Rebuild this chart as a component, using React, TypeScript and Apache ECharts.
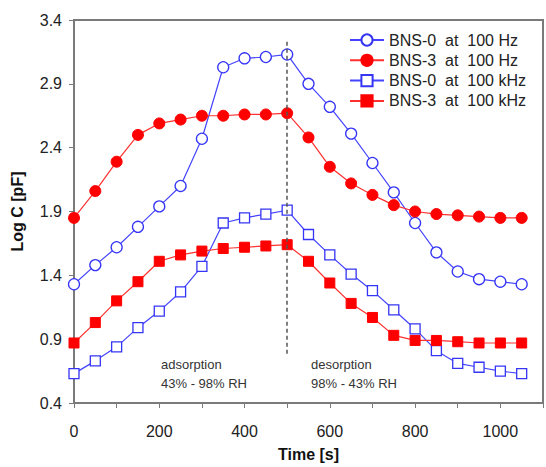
import React, { useEffect, useRef } from "react";
import * as echarts from "echarts";

const times = [0, 50, 100, 150, 200, 250, 300, 350, 400, 450, 500, 550, 600, 650, 700, 750, 800, 850, 900, 950, 1000, 1050];
const bns0Hz = [1.33, 1.48, 1.62, 1.78, 1.94, 2.10, 2.47, 3.03, 3.10, 3.11, 3.13, 2.90, 2.72, 2.51, 2.28, 2.05, 1.81, 1.58, 1.43, 1.37, 1.35, 1.33];
const bns3Hz = [1.85, 2.06, 2.29, 2.50, 2.59, 2.62, 2.65, 2.65, 2.66, 2.66, 2.67, 2.48, 2.25, 2.12, 2.03, 1.95, 1.90, 1.88, 1.87, 1.86, 1.85, 1.85];
const bns0kHz = [0.63, 0.73, 0.84, 0.99, 1.12, 1.27, 1.47, 1.81, 1.85, 1.88, 1.91, 1.72, 1.56, 1.41, 1.28, 1.13, 0.98, 0.81, 0.71, 0.68, 0.65, 0.63];
const bns3kHz = [0.87, 1.03, 1.20, 1.35, 1.51, 1.56, 1.59, 1.61, 1.62, 1.63, 1.64, 1.51, 1.34, 1.18, 1.07, 0.93, 0.89, 0.89, 0.88, 0.87, 0.87, 0.87];
const seriesNames = ["BNS-0  at  100 Hz", "BNS-3  at  100 Hz", "BNS-0  at  100 kHz", "BNS-3  at  100 kHz"];
const switchTime = 500;
const switchRange = [3.23, 0.78];

const BLUE = "#3535f5";
const BLUE_LINE = "#4444ff";
const RED = "#ff0000";
const RED_LINE = "#ff3030";
const AXIS = "#7a7a7a";
const FONT = "'Liberation Sans', Arial, sans-serif";

const pairs = (vals: number[]) => times.map((t, i) => [t, vals[i]]);

export default function App() {
  const ref = useRef<HTMLDivElement>(null);
  useEffect(() => {
    if (!ref.current) return;
    const chart = echarts.init(ref.current, null, { renderer: "svg" });
    const mk = (name: string, vals: number[], color: string, lineColor: string, symbol: string, filled: boolean, size: number, extra: any = {}) => ({
      name,
      type: "line",
      data: pairs(vals),
      symbol,
      symbolSize: size,
      showAllSymbol: true,
      lineStyle: { color: lineColor, width: 1.2 },
      itemStyle: filled
        ? { color, borderColor: color, borderWidth: 1 }
        : { color: "#ffffff", borderColor: color, borderWidth: 1.3 },
      emphasis: { disabled: true },
      ...extra,
    });
    chart.setOption({
      animation: false,
      textStyle: { fontFamily: FONT },
      grid: {
        left: 74,
        top: 20,
        width: 474,
        height: 387,
        show: true,
        borderColor: AXIS,
        borderWidth: 2,
        backgroundColor: "transparent",
      },
      legend: {
        orient: "vertical",
        left: 349,
        top: 32,
        padding: 0,
        itemWidth: 34,
        itemHeight: 14,
        itemGap: 4.3,
        textStyle: { fontSize: 16, lineHeight: 16, color: "#222", fontFamily: FONT },
        data: seriesNames,
      },
      xAxis: {
        type: "value",
        min: 0,
        max: 1100,
        interval: 100,
        name: "Time [s]",
        nameLocation: "middle",
        nameGap: 43,
        nameTextStyle: { fontSize: 16, fontWeight: "bold", color: "#111", fontFamily: FONT },
        axisLine: { show: true, lineStyle: { color: AXIS, width: 2 } },
        axisTick: { show: true, length: 5, lineStyle: { color: AXIS, width: 1 } },
        axisLabel: {
          fontSize: 16,
          color: "#222",
          margin: 20,
          formatter: (v: number) => (v % 200 === 0 && v <= 1000 ? String(v) : ""),
        },
        splitLine: { show: false },
      },
      yAxis: {
        type: "value",
        min: 0.4,
        max: 3.4,
        interval: 0.5,
        name: "Log C [pF]",
        nameLocation: "middle",
        nameGap: 49,
        nameRotate: 90,
        nameTextStyle: { fontSize: 16, fontWeight: "bold", color: "#111", fontFamily: FONT },
        axisLine: { show: true, lineStyle: { color: AXIS, width: 2 } },
        axisTick: { show: true, length: 5, lineStyle: { color: AXIS, width: 1 } },
        axisLabel: {
          fontSize: 16,
          color: "#222",
          margin: 12,
          formatter: (v: number) => v.toFixed(1),
        },
        splitLine: { show: false },
      },
      graphic: [
        {
          type: "text",
          left: 161,
          top: 355,
          style: { text: "adsorption\n43% - 98% RH", fontSize: 13, lineHeight: 19, fill: "#333", fontFamily: FONT },
        },
        {
          type: "text",
          left: 311,
          top: 355,
          style: { text: "desorption\n98% - 43% RH", fontSize: 13, lineHeight: 19, fill: "#333", fontFamily: FONT },
        },
      ],
      series: [
        mk(seriesNames[0], bns0Hz, BLUE, BLUE_LINE, "circle", false, 11, {
          markLine: {
            silent: true,
            symbol: ["none", "none"],
            label: { show: false },
            lineStyle: { color: "#555", type: [4, 3], width: 1.5 },
            data: [[{ coord: [switchTime, switchRange[0]] }, { coord: [switchTime, switchRange[1]] }]],
          },
        }),
        mk(seriesNames[1], bns3Hz, RED, RED_LINE, "circle", true, 11),
        mk(seriesNames[2], bns0kHz, BLUE, BLUE_LINE, "rect", false, 10),
        mk(seriesNames[3], bns3kHz, RED, RED_LINE, "rect", true, 10),
      ],
    });
    return () => chart.dispose();
  }, []);
  return (
    <div
      ref={ref}
      style={{ position: "fixed", left: 0, top: 0, width: 546, height: 467, background: "#fff" }}
    />
  );
}
